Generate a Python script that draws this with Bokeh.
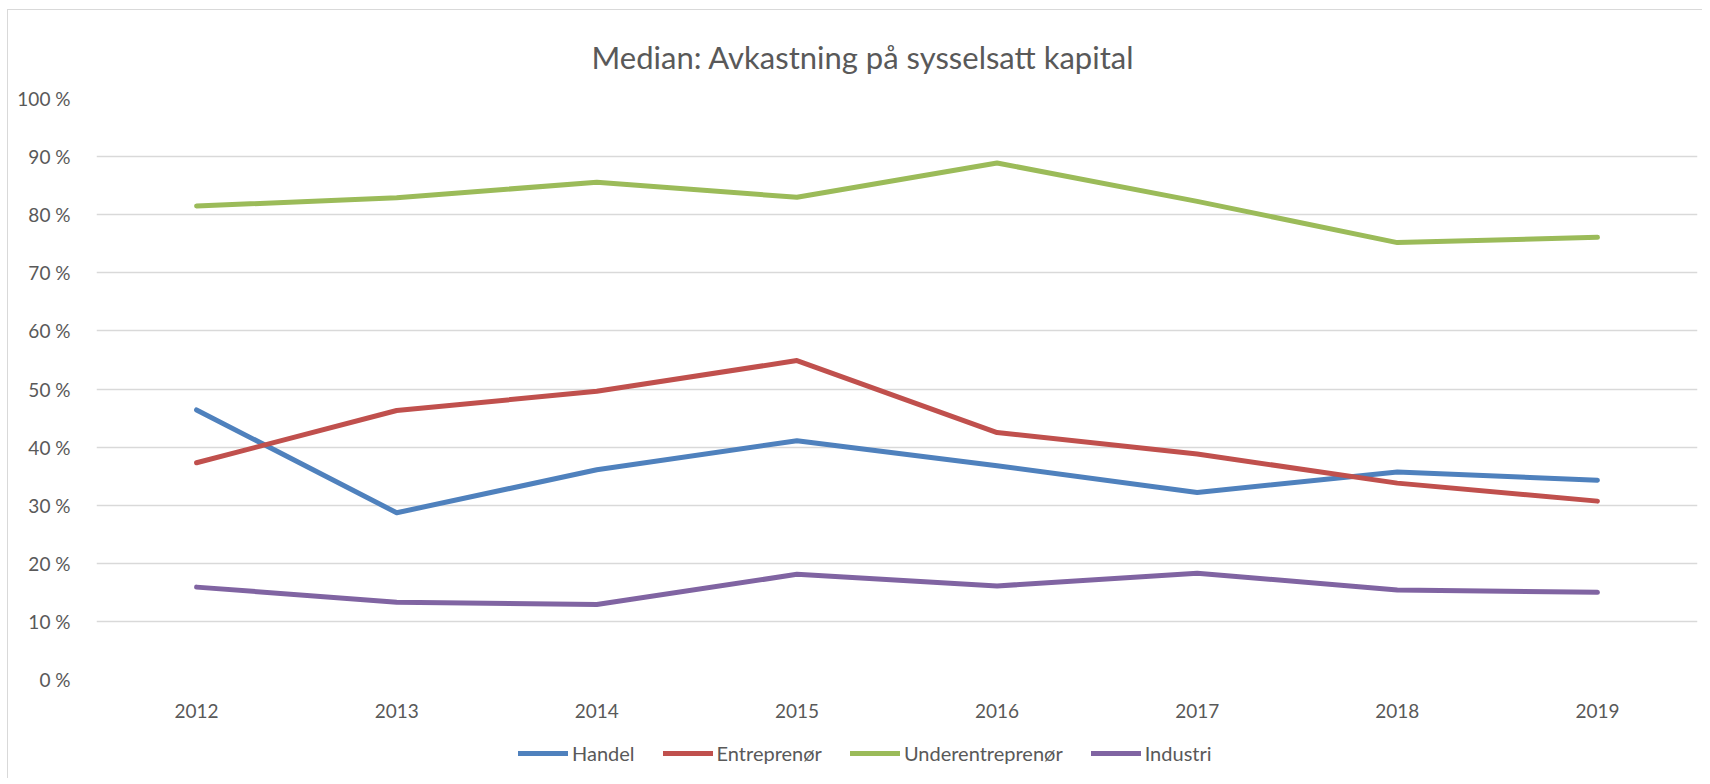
from bokeh.plotting import figure
from bokeh.models import Range1d, Legend, LegendItem, FixedTicker
from bokeh.layouts import column
from bokeh.embed import file_html
from bokeh.resources import INLINE

years = ["2012", "2013", "2014", "2015", "2016", "2017", "2018", "2019"]
handel = [46.4, 28.7, 36.1, 41.1, 36.8, 32.2, 35.7, 34.3]
entreprenor = [37.3, 46.3, 49.6, 54.9, 42.5, 38.8, 33.8, 30.7]
underentreprenor = [81.5, 82.9, 85.6, 83.0, 88.9, 82.3, 75.2, 76.1]
industri = [15.9, 13.3, 12.9, 18.1, 16.1, 18.3, 15.4, 15.0]
series_names = ["Handel", "Entreprenør", "Underentreprenør", "Industri"]
series_colors = ["#4F81BD", "#C0504D", "#9BBB59", "#8064A2"]
y_ticks = [0, 10, 20, 30, 40, 50, 60, 70, 80, 90, 100]
y_tick_labels = ["0 %", "10 %", "20 %", "30 %", "40 %", "50 %", "60 %", "70 %", "80 %", "90 %", "100 %"]
title_text = "Median: Avkastning på sysselsatt kapital"

FONT = "Lato"
TXT = "#595959"
BORDER = "1px solid #D9D9D9"
all_series = [handel, entreprenor, underentreprenor, industri]

p = figure(x_range=years, y_range=Range1d(0, 100), frame_width=1600, frame_height=580,
           output_backend="svg", toolbar_location=None, title=title_text,
           min_border_left=88, min_border_right=6, min_border_top=88, min_border_bottom=50)
p.margin = (9, 0, 0, 7)
p.styles = {"border-left": BORDER, "border-top": BORDER}
p.outline_line_color = None
p.background_fill_color = "white"
p.border_fill_color = "white"

p.title.align = "left"
p.title.offset = 495
p.title.text_font = FONT
p.title.text_font_size = "31px"
p.title.text_font_style = "normal"
p.title.text_color = TXT
p.title.standoff = 46

p.xgrid.grid_line_color = None
p.ygrid.grid_line_color = "#D9D9D9"
p.ygrid.grid_line_width = 1.5
p.yaxis.ticker = FixedTicker(ticks=y_ticks)
p.yaxis.major_label_overrides = {t: l for t, l in zip(y_ticks, y_tick_labels)}

for ax in (p.xaxis[0], p.yaxis[0]):
    ax.axis_line_color = None
    ax.major_tick_line_color = None
    ax.minor_tick_line_color = None
    ax.major_label_text_font = FONT
    ax.major_label_text_font_size = "19px"
    ax.major_label_text_color = TXT
p.yaxis.major_label_standoff = 20
p.xaxis.major_label_standoff = 18

for vals, col in zip(all_series, series_colors):
    p.line(years, vals, line_color=col, line_width=5, line_cap="round", line_join="round")

# legend strip below the chart (its lines lie outside its own visible range; only the legend shows)
lg = figure(x_range=Range1d(0, 1), y_range=Range1d(-2, -1), frame_width=1694, frame_height=50,
            output_backend="svg", toolbar_location=None, x_axis_type=None, y_axis_type=None,
            min_border=0)
lg.margin = (0, 0, 0, 7)
lg.styles = {"border-left": BORDER}
lg.outline_line_color = None
lg.grid.visible = False
lg.background_fill_color = "white"
lg.border_fill_color = "white"

items = []
for name, vals, col in zip(series_names, all_series, series_colors):
    r = lg.line(x=list(range(len(years))), y=vals, line_color=col, line_width=5, line_cap="round")
    items.append(LegendItem(label=name, renderers=[r]))

legend = Legend(items=items, orientation="horizontal", location=(510, 13),
                label_text_font=FONT, label_text_font_size="20px", label_text_color=TXT,
                glyph_width=50, label_standoff=4, spacing=28, border_line_color=None,
                background_fill_alpha=0, padding=0, margin=0)
lg.add_layout(legend, "center")

layout = column(p, lg, spacing=0)
open("out.html", "w").write(file_html(layout, INLINE))
